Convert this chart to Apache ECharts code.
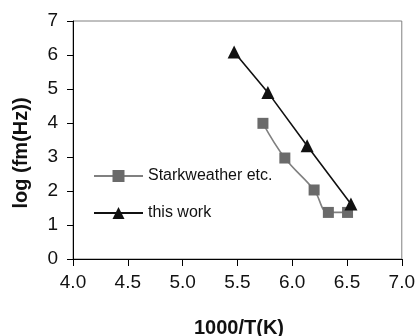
<!DOCTYPE html>
<html>
<head>
<meta charset="utf-8">
<script src="https://cdn.jsdelivr.net/npm/echarts@6/dist/echarts.min.js"></script>
<style>html,body{margin:0;padding:0;background:#fff}#c{width:418px;height:336px}</style>
</head>
<body>
<div id="c"></div>
<script>
var starkX = [5.733, 5.933, 6.20, 6.33, 6.505];
var starkY = [3.99, 2.97, 2.03, 1.37, 1.37];
var workX = [5.47, 5.778, 6.136, 6.536];
var workY = [6.09, 4.90, 3.33, 1.615];
var xTicks = [4.0, 4.5, 5.0, 5.5, 6.0, 6.5, 7.0];
var yTicks = [0, 1, 2, 3, 4, 5, 6, 7];
var seriesNames = ['Starkweather etc.', 'this work'];

function pairs(xs, ys){ return xs.map(function(x,i){ return [x, ys[i]]; }); }

var chart = echarts.init(document.getElementById('c'), null, {renderer:'canvas'});
var font = 'Arial, "Liberation Sans", sans-serif';
chart.setOption({
  animation: false,
  backgroundColor: '#fff',
  grid: {left: 73, right: 15, top: 21, bottom: 77, show: true, borderColor: '#808080', borderWidth: 1},
  xAxis: {
    type: 'value', min: xTicks[0], max: xTicks[xTicks.length-1], interval: 0.5,
    axisLine: {lineStyle: {color: '#000', width: 1}},
    axisTick: {inside: false, length: 7, lineStyle: {color: '#000'}},
    splitLine: {show: false},
    axisLabel: {margin: 14, color: '#111', fontSize: 19, fontFamily: font,
      formatter: function(v){ return v.toFixed(1); }}
  },
  yAxis: {
    type: 'value', min: yTicks[0], max: yTicks[yTicks.length-1], interval: 1,
    axisLine: {show: true, lineStyle: {color: '#000', width: 1}},
    axisTick: {show: true, inside: false, length: 6, lineStyle: {color: '#000'}},
    splitLine: {show: false},
    axisLabel: {margin: 15, color: '#111', fontSize: 19, fontFamily: font}
  },
  legend: {
    orient: 'vertical', left: 88, top: 163, itemWidth: 49, itemHeight: 15, itemGap: 21,
    textStyle: {fontSize: 16, color: '#111', fontFamily: font},
    data: [
      {name: seriesNames[0]},
      {name: seriesNames[1]}
    ]
  },
  graphic: [
    {type: 'text', x: 239, y: 328, style: {text: '1000/T(K)', align: 'center', verticalAlign: 'middle', font: 'bold 20px ' + font, fill: '#111'}},
    {type: 'text', rotation: Math.PI/2, x: 21, y: 153, style: {text: 'log (fm(Hz))', align: 'center', verticalAlign: 'middle', font: 'bold 20px ' + font, fill: '#111'}}
  ],
  series: [
    {
      name: seriesNames[0], type: 'line', smooth: 0.4,
      data: pairs(starkX, starkY),
      symbol: 'rect', symbolSize: 11,
      itemStyle: {color: '#6a6a6a'},
      lineStyle: {color: '#808080', width: 1.6}
    },
    {
      name: seriesNames[1], type: 'line',
      data: pairs(workX, workY),
      symbol: 'triangle', symbolSize: 13,
      itemStyle: {color: '#111'},
      lineStyle: {color: '#111', width: 1.6}
    }
  ]
});
</script>
</body>
</html>
